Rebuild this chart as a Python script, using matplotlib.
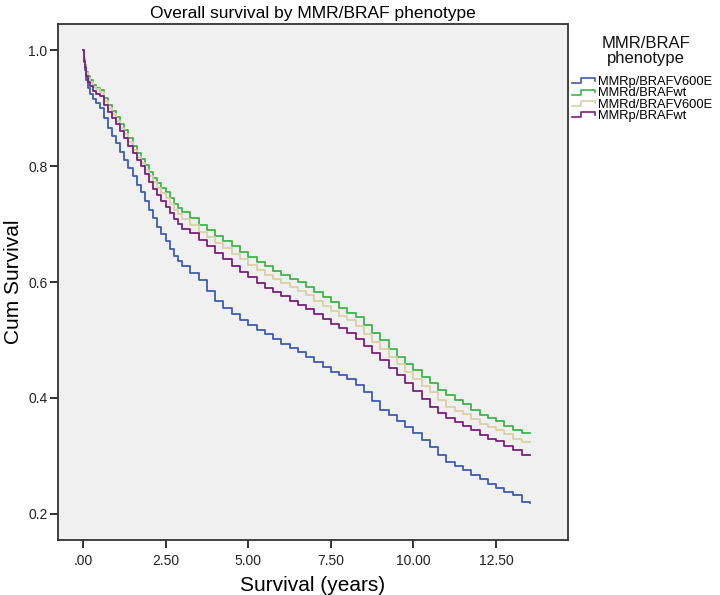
import matplotlib
matplotlib.use('Agg')
import matplotlib.pyplot as plt
from matplotlib.lines import Line2D
from matplotlib.legend_handler import HandlerLine2D
from matplotlib.ticker import FixedLocator, FuncFormatter

plt.rcParams['font.family'] = ['Liberation Sans', 'DejaVu Sans']

# years since diagnosis (shared step grid)
t = [0, 0.02, 0.05, 0.1, 0.15, 0.2, 0.3, 0.4, 0.5, 0.62, 0.75, 0.87, 1.0, 1.12, 1.25,
     1.37, 1.5, 1.62, 1.75, 1.87, 2.0, 2.12, 2.25, 2.37, 2.5, 2.62, 2.75, 2.87,
     3.0, 3.25, 3.5, 3.75, 4.0, 4.25, 4.5, 4.75, 5.0, 5.25, 5.5, 5.75, 6.0, 6.25,
     6.5, 6.75, 7.0, 7.25, 7.5, 7.75, 8.0, 8.25, 8.5, 8.75, 9.0, 9.25, 9.5, 9.75,
     10.0, 10.25, 10.5, 10.75, 11.0, 11.25, 11.5, 11.75, 12.0, 12.25, 12.5, 12.75,
     13.0, 13.3, 13.53]

mmrp_v600e = [1.0, 0.98, 0.965, 0.948, 0.935, 0.925, 0.915, 0.908, 0.9, 0.882, 0.865,
              0.852, 0.84, 0.825, 0.81, 0.796, 0.782, 0.768, 0.755, 0.74, 0.725,
              0.71, 0.695, 0.682, 0.67, 0.657, 0.645, 0.636, 0.628, 0.615, 0.603,
              0.585, 0.568, 0.556, 0.545, 0.535, 0.525, 0.517, 0.51, 0.501, 0.493,
              0.487, 0.48, 0.471, 0.462, 0.453, 0.445, 0.439, 0.433, 0.423, 0.41,
              0.394, 0.38, 0.37, 0.36, 0.35, 0.34, 0.327, 0.315, 0.302, 0.29, 0.282,
              0.275, 0.267, 0.26, 0.252, 0.245, 0.238, 0.232, 0.22, 0.219]
mmrd_wt = [1.0, 0.985, 0.975, 0.963, 0.955, 0.948, 0.94, 0.935, 0.931, 0.918, 0.905,
           0.895, 0.885, 0.873, 0.862, 0.848, 0.835, 0.823, 0.812, 0.801, 0.79,
           0.78, 0.77, 0.762, 0.755, 0.745, 0.735, 0.727, 0.72, 0.71, 0.698, 0.69,
           0.68, 0.671, 0.662, 0.652, 0.643, 0.635, 0.627, 0.619, 0.612, 0.606,
           0.6, 0.592, 0.583, 0.574, 0.565, 0.556, 0.547, 0.539, 0.525, 0.512, 0.5,
           0.485, 0.47, 0.458, 0.448, 0.437, 0.426, 0.414, 0.405, 0.397, 0.39,
           0.38, 0.37, 0.365, 0.36, 0.352, 0.345, 0.34, 0.34]
mmrd_v600e = [1.0, 0.983, 0.972, 0.96, 0.952, 0.945, 0.937, 0.932, 0.927, 0.913, 0.9,
              0.889, 0.878, 0.866, 0.855, 0.841, 0.828, 0.816, 0.805, 0.793, 0.782,
              0.772, 0.762, 0.753, 0.745, 0.735, 0.725, 0.717, 0.709, 0.698, 0.687,
              0.678, 0.668, 0.658, 0.648, 0.639, 0.63, 0.621, 0.612, 0.605, 0.598,
              0.592, 0.585, 0.577, 0.568, 0.559, 0.55, 0.542, 0.534, 0.524, 0.51,
              0.497, 0.485, 0.471, 0.458, 0.445, 0.432, 0.421, 0.41, 0.396, 0.385,
              0.378, 0.372, 0.363, 0.355, 0.35, 0.345, 0.337, 0.33, 0.324, 0.324]
mmrp_wt = [1.0, 0.982, 0.97, 0.955, 0.945, 0.938, 0.93, 0.925, 0.92, 0.906, 0.893,
           0.882, 0.872, 0.86, 0.848, 0.835, 0.822, 0.811, 0.8, 0.786, 0.772, 0.761,
           0.75, 0.74, 0.73, 0.719, 0.708, 0.7, 0.692, 0.684, 0.672, 0.662, 0.65,
           0.639, 0.628, 0.618, 0.608, 0.599, 0.59, 0.583, 0.576, 0.568, 0.56,
           0.553, 0.545, 0.536, 0.528, 0.52, 0.512, 0.502, 0.49, 0.478, 0.465,
           0.452, 0.44, 0.426, 0.412, 0.398, 0.385, 0.374, 0.365, 0.358, 0.352,
           0.344, 0.336, 0.33, 0.325, 0.317, 0.31, 0.302, 0.302]

labels = ['MMRp/BRAFV600E', 'MMRd/BRAFwt', 'MMRd/BRAFV600E', 'MMRp/BRAFwt']
colors = ['#3E5BB5', '#3DB54A', '#D8D0A4', '#7A1E7C']
series = [mmrp_v600e, mmrd_wt, mmrd_v600e, mmrp_wt]

xticks = [0, 2.5, 5, 7.5, 10, 12.5]
yticks = [0.2, 0.4, 0.6, 0.8, 1.0]


class StepHandler(HandlerLine2D):
    # small step-shaped legend key, like the SPSS survival legend
    def create_artists(self, legend, orig_handle, xdescent, ydescent, width,
                       height, fontsize, trans):
        x0 = -xdescent
        lo = -ydescent + height * 0.2
        hi = -ydescent + height * 0.75
        xs = [x0, x0 + width * 0.4, x0 + width * 0.4, x0 + width, x0 + width]
        ys = [lo, lo, hi, hi, hi - height * 0.25]
        ln = Line2D(xs, ys, color=orig_handle.get_color(), lw=1.2)
        ln.set_transform(trans)
        return [ln]


fig = plt.figure(figsize=(7.2, 5.95), dpi=100)
ax = fig.add_axes([0.0806, 0.0924, 0.7084, 0.8673])
ax.set_facecolor('#F0F0F0')

for s, c, lab in zip(series, colors, labels):
    ax.plot(t, s, drawstyle='steps-post', color=c, lw=1.3, label=lab)

ax.set_xlim(-0.757, 14.68)
ax.set_ylim(0.155, 1.045)
ax.xaxis.set_major_locator(FixedLocator(xticks))
ax.yaxis.set_major_locator(FixedLocator(yticks))
ax.xaxis.set_major_formatter(FuncFormatter(lambda v, p: '.00' if v == 0 else '%.2f' % v))
ax.yaxis.set_major_formatter(FuncFormatter(lambda v, p: '%.1f' % v))
ax.tick_params(direction='out', length=6, width=1.3, labelsize=10, pad=1.5,
               color='#222222', labelcolor='#222222')
ax.tick_params(axis='x', pad=4)

for sp in ax.spines.values():
    sp.set_linewidth(1.3)
    sp.set_color('#333333')

ax.set_title('Overall survival by MMR/BRAF phenotype', fontsize=12.5, pad=4)
ax.set_xlabel('Survival (years)', fontsize=15, labelpad=6)
ax.set_ylabel('Cum Survival', fontsize=15, labelpad=4)

fig.text(646 / 720, 1 - 51 / 595, 'MMR/BRAF\nphenotype', ha='center', va='center',
         fontsize=12, linespacing=1.0, color='#111111')

handles, _ = ax.get_legend_handles_labels()
leg = fig.legend(handles, labels, loc='upper left',
                 bbox_to_anchor=(572 / 720, 1 - 76 / 595),
                 bbox_transform=fig.transFigure, frameon=False, fontsize=9.3,
                 handlelength=1.75, handletextpad=0.3, labelspacing=-0.05,
                 borderpad=0, borderaxespad=0,
                 handler_map={Line2D: StepHandler()})

fig.savefig('out.png', dpi=100)
